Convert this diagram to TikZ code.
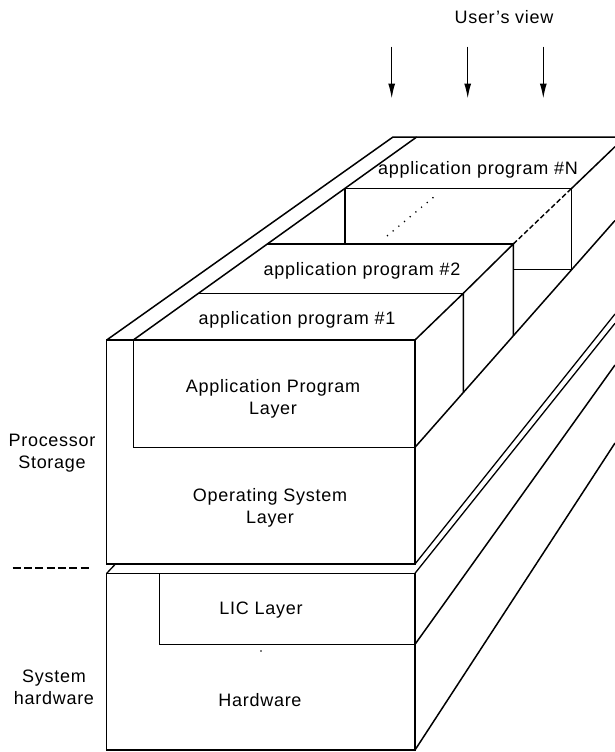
\documentclass[tikz,border=0pt]{standalone}
\usepackage{fontspec}
\setmainfont[LetterSpace=4]{Liberation Sans}
\usetikzlibrary{arrows.meta}
\begin{document}
\begin{tikzpicture}[x=1pt,y=-1pt,
  edge/.style={line width=1.5pt, line join=miter},
  thin edge/.style={line width=1.3pt},
  lbl/.style={font=\fontsize{18}{22}\selectfont, inner sep=0pt, align=center},
  arr/.style={line width=1.3pt, -{Latex[length=15pt,width=7pt]}},
  sep/.style={line width=2pt, dash pattern=on 8pt off 3.3pt},
  hidden/.style={line width=1.4pt, dash pattern=on 5pt off 2.5pt},
  dots/.style={line width=1.3pt, dash pattern=on 1.2pt off 6.2pt}]
\useasboundingbox (0,0) rectangle (615,752);
\clip (0,0) rectangle (615,752);

% ---- user's view arrows
\node[lbl] (uv) at (504,17) {User's view};
\coordinate (a1s) at (391.7,46.7); \coordinate (a1e) at (391.7,98.5);
\coordinate (a2s) at (467.7,46.7); \coordinate (a2e) at (467.7,98.5);
\coordinate (a3s) at (543.3,46.7); \coordinate (a3e) at (543.3,98.5);
\draw[arr] (a1s) -- (a1e);
\draw[arr] (a2s) -- (a2e);
\draw[arr] (a3s) -- (a3e);

% ---- processor storage block (front faces)
\draw[edge] (106.7,340) rectangle (415,564);
\draw[edge] (133.3,340) -- (133.3,447.3) -- (415,447.3);
% left slanted edges and top edge
\draw[edge] (106.7,340) -- (393,137) -- (615,137);
\draw[edge] (133.3,340) -- (416.7,137);

% application program #1 and #2
\draw[edge] (198.5,293.3) -- (463.3,293.3);
\draw[edge] (415,340) -- (463.3,293.3) -- (463.3,392.4);
\draw[edge] (267.3,244) -- (513.3,244);
\draw[edge] (463.3,293.3) -- (513.3,244) -- (513.3,335.8);

% application program #N
\draw[edge] (345,244) -- (345,188.3) -- (571.7,188.3) -- (571.7,269.6);
\draw[edge] (513.3,269.6) -- (571.7,269.6);
\draw[edge] (571.7,188.3) -- (615,146.7);
\draw[hidden] (513.3,244) -- (571.7,188.3);
\draw[dots] (387,236) -- (435,196);

% right-side depth edges
\draw[edge] (415,447.3) -- (615,220.5);
\draw[thin edge] (415,564) -- (615,314);
\draw[thin edge] (415,573.3) -- (615,323.3);
\draw[edge] (415,644.3) -- (615,365);
\draw[edge] (415,750) -- (615,443);

% ---- system hardware block
\draw[edge] (106.7,573.3) rectangle (415,750);
\draw[edge] (159.3,573.3) -- (159.3,644.3) -- (415,644.3);
\draw[thin edge] (106.7,573.3) -- (115.5,564);
\fill (261,651) circle (0.8pt);

% separator
\coordinate (s1) at (12.7,568.3); \coordinate (s2) at (91.7,568.3);
\draw[sep] (s1) -- (s2);

% ---- labels
\node[lbl] (apN) at (478,170) {application program \#N};
\node[lbl] (ap2) at (362,271) {application program \#2};
\node[lbl] (ap1) at (297,320) {application program \#1};
\node[lbl] (apl) at (273,399) {Application Program\\Layer};
\node[lbl] (osl) at (270,508) {Operating System\\Layer};
\node[lbl] (ps) at (52,453) {Processor\\Storage};
\node[lbl] (sh) at (54,687) {System\\hardware};
\node[lbl] (lic) at (261,610) {LIC Layer};
\node[lbl] (hw) at (260,700) {Hardware};
\end{tikzpicture}
\end{document}
